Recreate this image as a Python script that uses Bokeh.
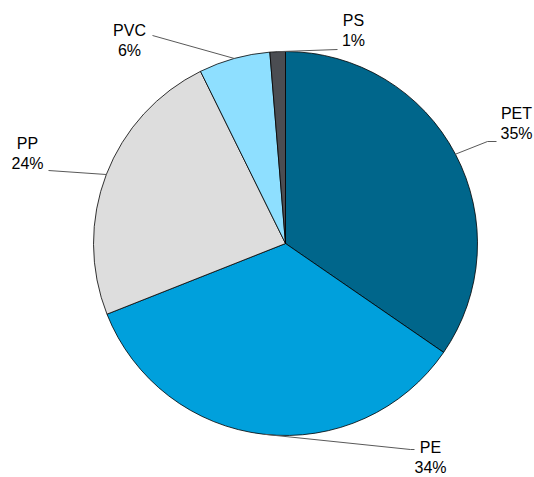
import math
from bokeh.plotting import figure
from bokeh.models import Range1d, ColumnDataSource
from bokeh.core.properties import value
from bokeh.embed import file_html
from bokeh.resources import INLINE

# ---- data ----
materials = ["PET", "PE", "PP", "PVC", "PS"]
shares = [34.6, 34.4, 23.7, 6.0, 1.3]

# ---- style / layout ----
colors = ["#00668B", "#00A0DC", "#DDDDDD", "#8EDFFF", "#4B4D52"]
W, H = 534, 477
CX, CY, R = 285, 243, 192  # screen px
# label block centres and leader end points (screen px)
label_pos = {
    "PET": (516, 123),
    "PE": (430, 457),
    "PP": (27, 153),
    "PVC": (129, 40),
    "PS": (353, 30),
}
leader_ends = {
    "PET": [(487, 141), (496, 141)],
    "PE": [(410, 449), (414, 449)],
    "PP": [(48, 170)],
    "PVC": [(152, 35)],
    "PS": [(337, 49)],
}


def sy(y):
    return H - y


p = figure(width=W - 16, height=H - 16, output_backend="svg", toolbar_location=None,
           x_range=Range1d(8, W - 8), y_range=Range1d(8, H - 8), min_border=0)
p.axis.visible = False
p.grid.visible = False
p.outline_line_color = None
p.background_fill_color = "white"
p.border_fill_color = "white"

total = sum(shares)
starts, ends, mids = [], [], []
cum = 0.0
for s in shares:
    a0 = cum / total * 2 * math.pi
    cum += s
    a1 = cum / total * 2 * math.pi
    starts.append(math.pi / 2 - a0)
    ends.append(math.pi / 2 - a1)
    mids.append((a0 + a1) / 2)

src = ColumnDataSource(dict(x=[CX] * len(shares), y=[sy(CY)] * len(shares),
                            start=starts, end=ends, color=colors))
p.wedge(x="x", y="y", radius=R, start_angle="start", end_angle="end", direction="clock",
        fill_color="color", line_color="#000000", line_width=0.8, source=src)

# leader lines
xs, ys = [], []
for m, th in zip(materials, mids):
    px = CX + R * math.sin(th)
    py = CY - R * math.cos(th)
    pts = [(px, py)] + leader_ends[m]
    xs.append([q[0] for q in pts])
    ys.append([sy(q[1]) for q in pts])
p.multi_line(xs, ys, line_color="#595959", line_width=1)

# labels
lx = [label_pos[m][0] for m in materials]
ly = [sy(label_pos[m][1]) for m in materials]
txt = [f"{m}\n{round(s / total * 100):.0f}%" for m, s in zip(materials, shares)]
p.text(lx, ly, text=txt, text_align="center", text_baseline="middle",
       text_font=value("Liberation Sans"), text_font_size="16px", text_color="#000000",
       text_line_height=1.2)

# the photographed page places the canvas at the window's top-left corner,
# so widen the canvas to the window and shift the ranges accordingly
p.width = W
p.height = H
p.x_range = Range1d(0, W)
p.y_range = Range1d(0, H)

open("out.html", "w").write(file_html(p, INLINE))
